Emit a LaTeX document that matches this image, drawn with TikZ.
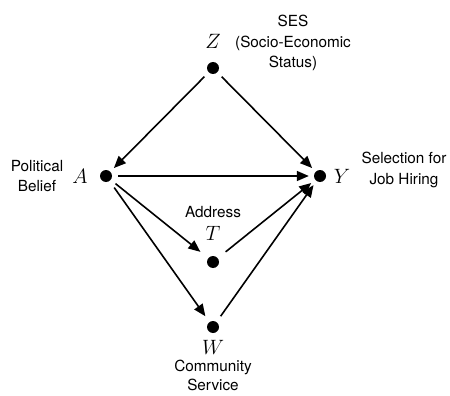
\documentclass[tikz,border=0pt]{standalone}
\usepackage{fontspec}
\setsansfont{TeX Gyre Heros}
\usetikzlibrary{arrows.meta}
\begin{document}
\begin{tikzpicture}[x=1pt,y=-1pt,
  dot/.style={circle,fill=black,inner sep=0pt,minimum size=12pt},
  var/.style={font=\fontsize{21}{25}\selectfont,inner sep=0pt},
  lab/.style={font=\sffamily\fontsize{15.3}{20.5}\selectfont,align=center,inner sep=0pt},
  arr/.style={line width=1.6pt,-{Triangle[length=12pt,width=10pt]},shorten <=6pt,shorten >=5pt}]
\useasboundingbox (0,0) rectangle (450,396);
\node[dot] (Z) at (213,68) {};
\node[dot] (A) at (106,176) {};
\node[dot] (Y) at (320,176) {};
\node[dot] (T) at (213,262) {};
\node[dot] (W) at (213,327) {};
\node[var] (zl) at (213,41) {$Z$};
\node[var] (al) at (80,176) {$A$};
\node[var] (yl) at (342,176) {$Y$};
\node[var] (tl) at (213,233) {$T$};
\node[var] (wl) at (213,347) {$W$};
\node[lab] (ses) at (293,43) {SES\\(Socio-Economic\\Status)};
\node[lab] (pb) at (37,176) {Political\\Belief};
\node[lab] (sj) at (404,170) {Selection for\\Job Hiring};
\node[lab] (ad) at (213,212) {Address};
\node[lab,font=\sffamily\fontsize{15.3}{19}\selectfont] (cs) at (213,375) {Community\\Service};
\draw[arr] (Z) -- (A);
\draw[arr] (Z) -- (Y);
\draw[arr] (A) -- (Y);
\draw[arr,shorten >=10pt] (A) -- (T);
\draw[arr,shorten <=10pt] (T) -- (Y);
\draw[arr,shorten <=8pt,shorten >=7pt] (A) -- (W);
\draw[arr,shorten <=7pt] (W) -- (Y);
\end{tikzpicture}
\end{document}
